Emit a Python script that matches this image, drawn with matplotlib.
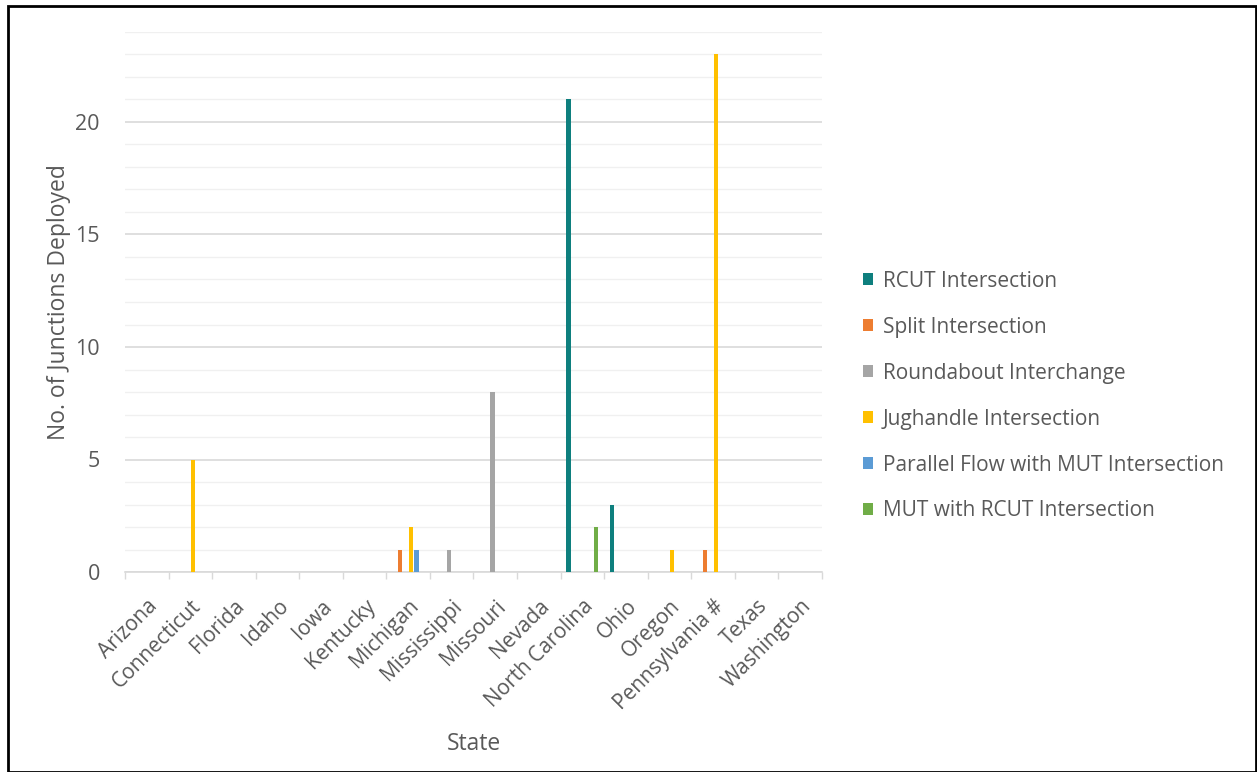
import matplotlib
matplotlib.use("Agg")
import matplotlib.pyplot as plt
import numpy as np
from matplotlib.patches import Rectangle

states = ["Arizona", "Connecticut", "Florida", "Idaho", "Iowa", "Kentucky", "Michigan",
          "Mississippi", "Missouri", "Nevada", "North Carolina", "Ohio", "Oregon",
          "Pennsylvania #", "Texas", "Washington"]
series_names = ["RCUT Intersection", "Split Intersection", "Roundabout Interchange",
                "Jughandle Intersection", "Parallel Flow with MUT Intersection",
                "MUT with RCUT Intersection"]
rcut       = [0, 0, 0, 0, 0, 0, 0, 0, 0, 0, 21, 3, 0, 0, 0, 0]
split      = [0, 0, 0, 0, 0, 0, 1, 0, 0, 0, 0, 0, 0, 1, 0, 0]
roundabout = [0, 0, 0, 0, 0, 0, 0, 1, 8, 0, 0, 0, 0, 0, 0, 0]
jughandle  = [0, 5, 0, 0, 0, 0, 2, 0, 0, 0, 0, 0, 1, 23, 0, 0]
parallel   = [0, 0, 0, 0, 0, 0, 1, 0, 0, 0, 0, 0, 0, 0, 0, 0]
mut_rcut   = [0, 0, 0, 0, 0, 0, 0, 0, 0, 0, 2, 0, 0, 0, 0, 0]
colors = ["#0E7F7E", "#ED7D31", "#A5A5A5", "#FFC000", "#5B9BD5", "#70AD47"]

all_series = [rcut, split, roundabout, jughandle, parallel, mut_rcut]

plt.rcParams['font.family'] = ['Open Sans', 'DejaVu Sans']
fig = plt.figure(figsize=(12.57, 7.72), dpi=100)
ax = fig.add_axes([125/1257, 1-572/772, (822-125)/1257, (572-32)/772])

x = np.arange(len(states))
w = 0.126
for i, (vals, name, c) in enumerate(zip(all_series, series_names, colors)):
    ax.bar(x + (i - 2.5) * w, vals, width=w * 0.8, color=c, label=name, zorder=3)

ax.set_xlim(-0.5, len(states) - 0.5)
ax.set_ylim(0, 24)
ax.set_yticks([0, 5, 10, 15, 20])
ax.set_yticks(np.arange(0, 25, 1), minor=True)
ax.yaxis.grid(True, which='major', color='#D9D9D9', lw=1.2, zorder=0)
ax.yaxis.grid(True, which='minor', color='#F0F0F0', lw=1.0, zorder=0)
ax.tick_params(axis='y', which='both', length=0, labelsize=15.5, labelcolor='#595959', pad=18)

ax.set_xticks(x)
ax.set_xticklabels(states, rotation=45, ha='right', rotation_mode='anchor',
                   fontsize=15, color='#595959')
ax.set_xticks(np.arange(-0.5, len(states), 1), minor=True)
ax.tick_params(axis='x', which='major', length=0, pad=17)
ax.tick_params(axis='x', which='minor', length=5, color='#D9D9D9', width=1)

for s in ['top', 'right', 'left']:
    ax.spines[s].set_visible(False)
ax.spines['bottom'].set_color('#D9D9D9')
ax.spines['bottom'].set_linewidth(1.2)

ax.set_ylabel("No. of Junctions Deployed", fontsize=16.5, color='#595959', labelpad=3)
ax.set_xlabel("State", fontsize=16.5, color='#595959', labelpad=13)

handles, labels = ax.get_legend_handles_labels()
leg = fig.legend(handles, labels, loc='center left', bbox_to_anchor=(844/1257, 1-396/772),
                 frameon=False, fontsize=15, labelspacing=1.2, handlelength=0.5,
                 handleheight=0.5, handletextpad=0.45)
for t in leg.get_texts():
    t.set_color('#595959')

fig.patches.append(Rectangle((8/1257, 0), 1 - 9/1257, 1 - 6/772, transform=fig.transFigure,
                             fill=False, edgecolor='black', lw=2))

fig.savefig("out.png", dpi=100)
